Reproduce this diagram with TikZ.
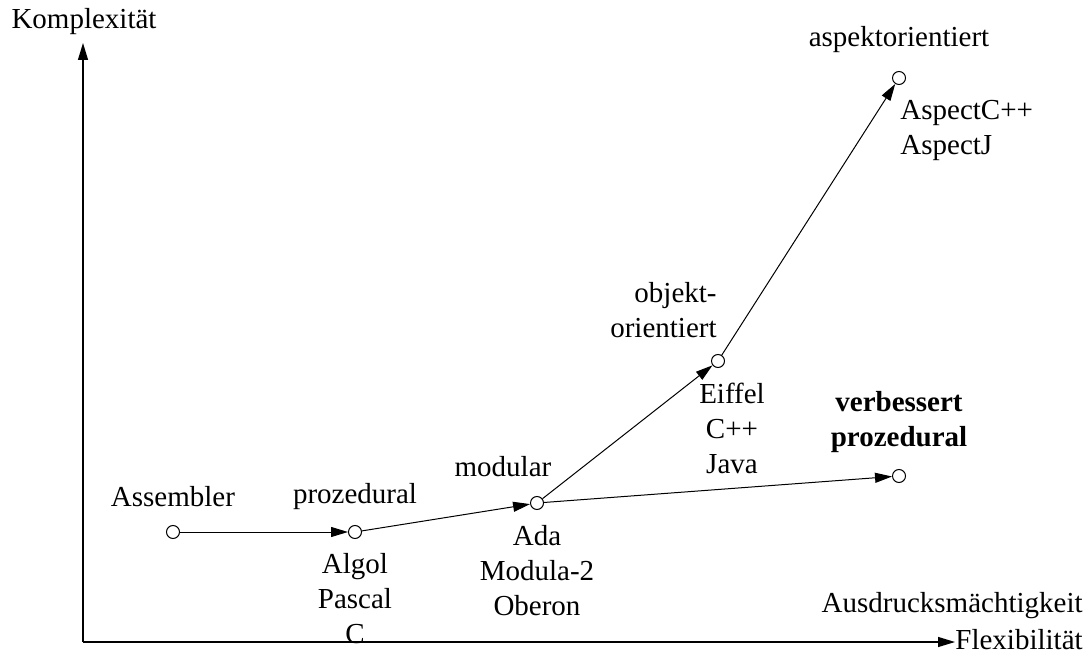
\documentclass[tikz,border=0pt]{standalone}
\usepackage{fontspec}
\setmainfont{Liberation Serif}
\usetikzlibrary{arrows.meta}

\tikzset{
  stufe/.style={circle, draw, fill=white, inner sep=0pt, minimum size=6.5pt, line width=0.5pt},
  txt/.style={inner sep=0pt, align=center},
  pfeil/.style={-{Triangle[length=8.5pt,width=5pt]}, line width=0.5pt},
}

\begin{document}
\begin{tikzpicture}[x=0.5pt, y=-0.5pt, font=\fontsize{14.5}{17.5}\selectfont]
	\useasboundingbox (0,0) rectangle (1091,657);

	% Achsen
	\coordinate (ursprung) at (83,642);
	\coordinate (yspitze) at (83,43);
	\node[txt] (komplex) at (84,22) {Komplexität};
	\node[txt, anchor=west] (flex) at (955,640) {Flexibilität};
	\node[txt, anchor=east] (ausdruck) at (1083,606) {Ausdrucksmächtigkeit};
	\draw[pfeil, line width=0.6pt] (ursprung) -- (yspitze);
	\draw[pfeil, line width=0.6pt] (ursprung) -- (ursprung -| flex.west);

	% Stufen
	\node[stufe] (asm) at (173,532) {};
	\node[stufe] (proz) at (355,532) {};
	\node[stufe] (modul) at (537,503) {};
	\node[stufe] (objekt) at (718,361) {};
	\node[stufe] (aspekt) at (899,78) {};
	\node[stufe] (verb) at (899,476) {};

	\draw[pfeil] (asm) -- (proz);
	\draw[pfeil] (proz) -- (modul);
	\draw[pfeil] (modul) -- (objekt);
	\draw[pfeil] (objekt) -- (aspekt);
	\draw[pfeil] (modul) -- (verb);

	% Beschriftungen
	\node[txt] (asmtxt) at (173,497) {Assembler};
	\node[txt] (proztxt) at (355,497) {prozedural};
	\node[txt] (prozspr) at (355,599) {Algol\\Pascal\\C};
	\node[txt] (modultxt) at (503,467) {modular};
	\node[txt] (modulspr) at (537,571) {Ada\\Modula-2\\Oberon};
	\node[txt, align=right, anchor=east] (objekttxt) at (717,310) {objekt-\\orientiert};
	\node[txt] (objektspr) at (732,428) {Eiffel\\C++\\Java};
	\node[txt] (aspekttxt) at (899,40) {aspektorientiert};
	\node[txt, align=left, anchor=west] (aspektspr) at (900,130) {AspectC++\\AspectJ};
	\node[txt, font=\fontsize{14.5}{17.5}\selectfont\bfseries] (verbtxt) at (899,422) {verbessert\\prozedural};
\end{tikzpicture}
\end{document}
